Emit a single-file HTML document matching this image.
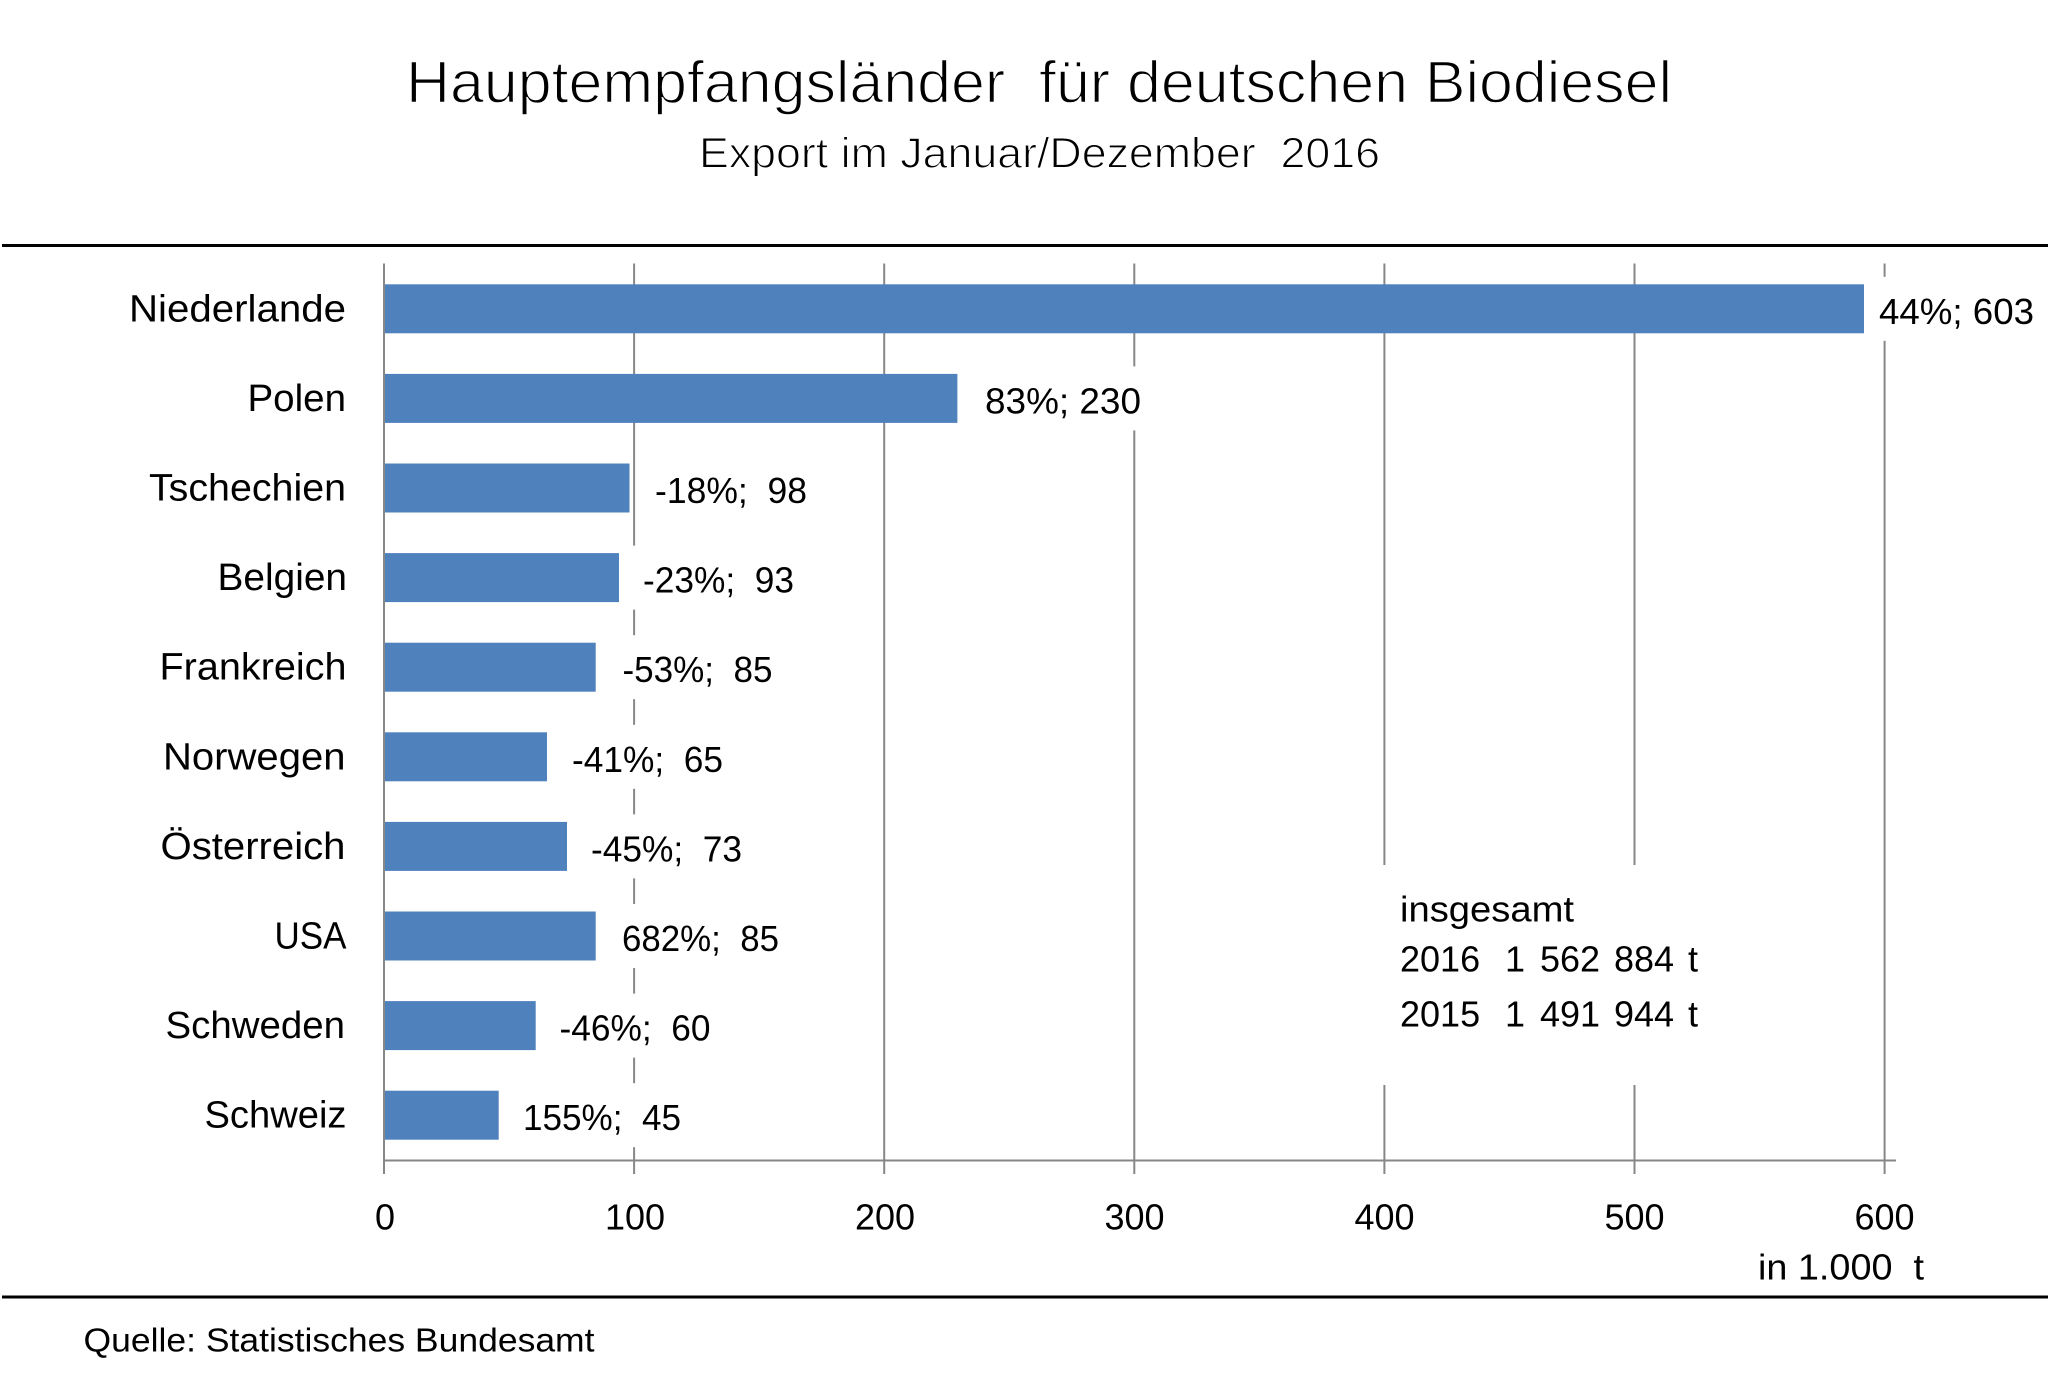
<!DOCTYPE html>
<html>
<head>
<meta charset="utf-8">
<style>
  html, body { margin: 0; padding: 0; background: #ffffff; }
  svg { display: block; }
  text { font-family: "Liberation Sans", "DejaVu Sans", sans-serif; fill: #000; white-space: pre; }
</style>
</head>
<body>
<svg width="2048" height="1400" viewBox="0 0 2048 1400" xmlns="http://www.w3.org/2000/svg" xml:space="preserve">
  <rect x="0" y="0" width="2048" height="1400" fill="#ffffff"/>

  <!-- Title -->
  <text x="406" y="102.5" font-size="59" textLength="1266" lengthAdjust="spacingAndGlyphs" stroke="#ffffff" stroke-width="1.4">Hauptempfangsländer  für deutschen Biodiesel</text>
  <text x="699" y="167.7" font-size="43" textLength="681" lengthAdjust="spacingAndGlyphs" stroke="#ffffff" stroke-width="1.1">Export im Januar/Dezember  2016</text>

  <!-- Rules -->
  <rect x="2" y="244" width="2046" height="3" fill="#000"/>
  <rect x="2" y="1295.5" width="2046" height="3" fill="#000"/>

  <!-- Gridlines -->
  <g stroke="#878787" stroke-width="2">
    <line x1="634.1" y1="263.5" x2="634.1" y2="1174"/>
    <line x1="884.2" y1="263.5" x2="884.2" y2="1174"/>
    <line x1="1134.3" y1="263.5" x2="1134.3" y2="1174"/>
    <line x1="1384.4" y1="263.5" x2="1384.4" y2="1174"/>
    <line x1="1634.5" y1="263.5" x2="1634.5" y2="1174"/>
    <line x1="1884.6" y1="263.5" x2="1884.6" y2="1174"/>
  </g>

  <!-- white box behind totals text -->
  <rect x="1360" y="865" width="360" height="220" fill="#ffffff"/>

  <!-- Bars -->
  <g fill="#4f81bd">
    <rect x="385" y="284.3" width="1479" height="49"/>
    <rect x="385" y="373.9" width="572.4" height="49"/>
    <rect x="385" y="463.5" width="244.5" height="49"/>
    <rect x="385" y="553.1" width="234" height="49"/>
    <rect x="385" y="642.7" width="210.7" height="49"/>
    <rect x="385" y="732.3" width="162" height="49"/>
    <rect x="385" y="821.9" width="182" height="49"/>
    <rect x="385" y="911.5" width="210.7" height="49"/>
    <rect x="385" y="1001.1" width="150.7" height="49"/>
    <rect x="385" y="1090.7" width="113.7" height="49"/>
  </g>

  <!-- white boxes behind data labels -->
  <g fill="#ffffff">
    <rect x="1866" y="276.8" width="175" height="64"/>
    <rect x="972" y="366.4" width="176" height="64"/>
    <rect x="642" y="456" width="172" height="64"/>
    <rect x="630" y="545.6" width="171" height="64"/>
    <rect x="609.5" y="635.2" width="170" height="64"/>
    <rect x="559" y="724.8" width="171" height="64"/>
    <rect x="578" y="814.4" width="171" height="64"/>
    <rect x="609" y="904" width="177" height="64"/>
    <rect x="546.5" y="993.6" width="171" height="64"/>
    <rect x="510" y="1083.2" width="178" height="64"/>
  </g>

  <!-- Axes -->
  <g stroke="#878787" stroke-width="2">
    <line x1="384" y1="263.5" x2="384" y2="1174"/>
    <line x1="383" y1="1160.5" x2="1896" y2="1160.5"/>
  </g>

  <!-- Category labels -->
  <g font-size="38">
    <text x="129" y="321.3" textLength="217" lengthAdjust="spacingAndGlyphs">Niederlande</text>
    <text x="247.5" y="410.9" textLength="98.5" lengthAdjust="spacingAndGlyphs">Polen</text>
    <text x="149" y="500.5" textLength="197" lengthAdjust="spacingAndGlyphs">Tschechien</text>
    <text x="217.5" y="590.1" textLength="129.5" lengthAdjust="spacingAndGlyphs">Belgien</text>
    <text x="159.5" y="679.7" textLength="187" lengthAdjust="spacingAndGlyphs">Frankreich</text>
    <text x="163" y="769.3" textLength="182.5" lengthAdjust="spacingAndGlyphs">Norwegen</text>
    <text x="160.5" y="858.9" textLength="185" lengthAdjust="spacingAndGlyphs">Österreich</text>
    <text x="274.5" y="948.5" textLength="72" lengthAdjust="spacingAndGlyphs">USA</text>
    <text x="165.5" y="1038.1" textLength="179.5" lengthAdjust="spacingAndGlyphs">Schweden</text>
    <text x="204.5" y="1127.7" textLength="142" lengthAdjust="spacingAndGlyphs">Schweiz</text>
  </g>

  <!-- Data labels -->
  <g font-size="36">
    <text x="1879" y="323.8" textLength="155" lengthAdjust="spacingAndGlyphs">44%; 603</text>
    <text x="985" y="413.4" textLength="156" lengthAdjust="spacingAndGlyphs">83%; 230</text>
    <text x="655" y="503" textLength="152" lengthAdjust="spacingAndGlyphs">-18%;  98</text>
    <text x="643" y="592.6" textLength="151" lengthAdjust="spacingAndGlyphs">-23%;  93</text>
    <text x="622.5" y="682.2" textLength="150" lengthAdjust="spacingAndGlyphs">-53%;  85</text>
    <text x="572" y="771.8" textLength="151" lengthAdjust="spacingAndGlyphs">-41%;  65</text>
    <text x="591" y="861.4" textLength="151" lengthAdjust="spacingAndGlyphs">-45%;  73</text>
    <text x="622" y="951" textLength="157" lengthAdjust="spacingAndGlyphs">682%;  85</text>
    <text x="559.5" y="1040.6" textLength="151" lengthAdjust="spacingAndGlyphs">-46%;  60</text>
    <text x="523" y="1130.2" textLength="158" lengthAdjust="spacingAndGlyphs">155%;  45</text>
  </g>

  <!-- Tick labels -->
  <g font-size="36" text-anchor="middle">
    <text x="385" y="1229.5">0</text>
    <text x="635" y="1229.5">100</text>
    <text x="885" y="1229.5">200</text>
    <text x="1134.5" y="1229.5">300</text>
    <text x="1384.5" y="1229.5">400</text>
    <text x="1634.5" y="1229.5">500</text>
    <text x="1884.5" y="1229.5">600</text>
  </g>
  <text x="1758" y="1279.3" font-size="36" textLength="166" lengthAdjust="spacingAndGlyphs">in 1.000  t</text>

  <!-- Totals -->
  <g font-size="36">
    <text x="1400" y="921.7" textLength="174" lengthAdjust="spacingAndGlyphs">insgesamt</text>
    <text x="1400" y="971.7">2016</text>
    <text x="1505" y="971.7">1</text>
    <text x="1540" y="971.7">562</text>
    <text x="1614" y="971.7">884</text>
    <text x="1688" y="971.7">t</text>
    <text x="1400" y="1026.7">2015</text>
    <text x="1505" y="1026.7">1</text>
    <text x="1540" y="1026.7">491</text>
    <text x="1614" y="1026.7">944</text>
    <text x="1688" y="1026.7">t</text>
  </g>

  <!-- Source -->
  <text x="83.5" y="1351.7" font-size="33" textLength="511" lengthAdjust="spacingAndGlyphs">Quelle: Statistisches Bundesamt</text>
</svg>
</body>
</html>
